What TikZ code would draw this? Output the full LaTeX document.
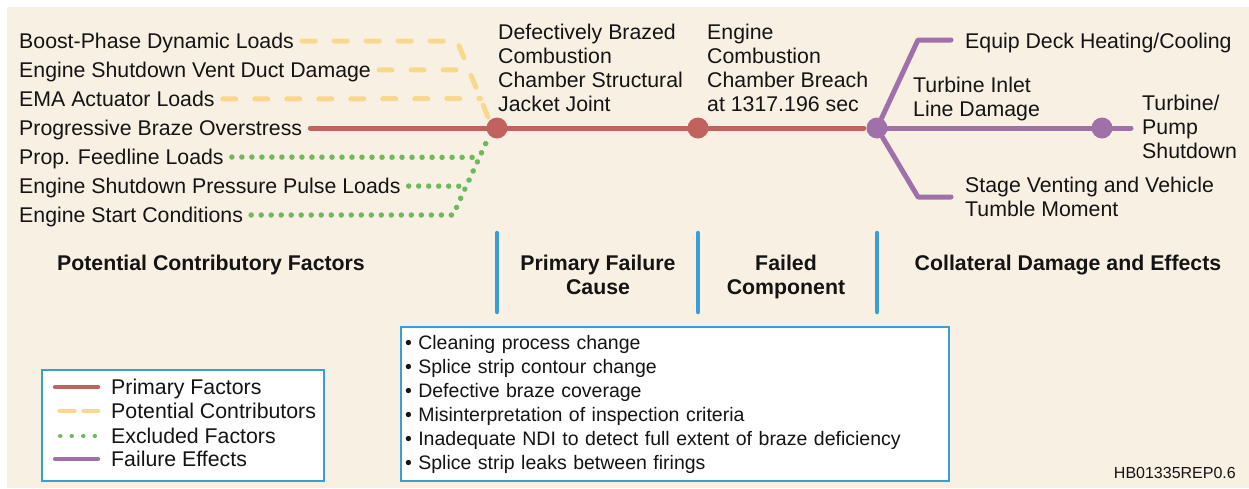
\documentclass[tikz,border=0pt]{standalone}
\usepackage{fontspec}
\setmainfont{Liberation Sans}
\usetikzlibrary{calc}

\definecolor{bgcol}{RGB}{249,240,228}
\definecolor{primcol}{RGB}{193,98,94}
\definecolor{potcol}{RGB}{247,216,140}
\definecolor{exclcol}{RGB}{112,184,92}
\definecolor{effcol}{RGB}{160,112,168}
\definecolor{boxcol}{RGB}{56,158,214}
\definecolor{txtcol}{RGB}{20,20,20}

\tikzset{
    lbl/.style={anchor=west,inner sep=0pt,text height=15pt,text depth=0pt,
        text=txtcol,font=\fontsize{21.3}{24}\selectfont},
    mlbl/.style={anchor=north west,inner sep=0pt,align=left,
        text=txtcol,font=\fontsize{21.3}{24}\selectfont},
    hdr/.style={inner sep=0pt,align=center,text=txtcol,
        font=\fontsize{21.3}{24}\selectfont\bfseries},
    primary/.style={primcol,line width=5pt,line cap=round},
    potential/.style={potcol,line width=5pt,line cap=round,line join=round,
        dash pattern=on 13pt off 19pt},
    excluded/.style={exclcol,line width=5.5pt,line cap=round,line join=round,
        dash pattern=on 0.01pt off 10pt},
    effect/.style={effcol,line width=5pt,line cap=round,line join=round},
    keypot/.style={potcol,line width=4.5pt,line cap=round,dash pattern=on 15pt off 9pt},
    keyexcl/.style={exclcol,line width=5pt,line cap=round,dash pattern=on 0.01pt off 11.5pt},
    sepbar/.style={boxcol,line width=4.5pt,line cap=round},
    panel/.style={draw=boxcol,line width=2pt,fill=white,inner sep=0pt}
}

\begin{document}
\begin{tikzpicture}[x=1pt,y=-1pt]
        \useasboundingbox (0,0) rectangle (1249,488);
        \fill[bgcol] (7,7) rectangle (1249,488);

        % contributing factors
        \begin{scope}[every node/.style={lbl}]
            \node (L1) at (19,41) {Boost-Phase Dynamic Loads};
            \node (L2) at (19,70) {Engine Shutdown Vent Duct Damage};
            \node (L3) at (19,99) {EMA Actuator Loads};
            \node (L4) at (19,128) {Progressive Braze Overstress};
            \node (L5) at (19,157) {Prop. Feedline Loads};
            \node (L6) at (19,186) {Engine Shutdown Pressure Pulse Loads};
            \node (L7) at (19,215) {Engine Start Conditions};
        \end{scope}

        % event dots
        \begin{scope}[every node/.style={circle,inner sep=0pt,minimum size=21pt}]
            \node[fill=primcol] (J) at (497,128) {};
            \node[fill=primcol] (B) at (698,128) {};
            \node[fill=effcol] (T) at (877,128) {};
            \node[fill=effcol] (P) at (1102,128) {};
        \end{scope}

        \node[mlbl] (Jt) at (498,24.2) {Defectively Brazed\\Combustion\\Chamber Structural\\Jacket Joint};
        \node[mlbl] (Bt) at (707,24.2) {Engine\\Combustion\\Chamber Breach\\at 1317.196 sec};
        \node[mlbl] (inlet) at (913,77.2) {Turbine Inlet\\Line Damage};
        \node[mlbl] (pump) at (1142,95.2) {Turbine/\\Pump\\Shutdown};
        \node[mlbl] (stage) at (965,177.2) {Stage Venting and Vehicle\\Tumble Moment};
        \node[lbl] (deck) at (965,41) {Equip Deck Heating/Cooling};

        \coordinate (y1) at (457,41);
        \coordinate (g1) at (453,215);
        \coordinate (up) at (918,40);
        \coordinate (dn) at (918,197);

        % potential contributors
        \draw[potential,shorten <=8pt,shorten >=2.5pt] (L1.east) -- (y1) -- (J.north west);
        \draw[potential,shorten <=8pt] (L2.east) -- ($(y1)!0.3625!(J.north west)$);
        \draw[potential,shorten <=8pt] (L3.east) -- ($(y1)!0.725!(J.north west)$);
        % excluded factors
        \draw[excluded,shorten <=8pt,shorten >=2.5pt] (L7.east) -- (g1) -- (J.south west);
        \draw[excluded,shorten <=8pt] (L6.east) -- ($(g1)!0.3628!(J.south west)$);
        \draw[excluded,shorten <=8pt] (L5.east) -- ($(g1)!0.7256!(J.south west)$);
        % primary path
        \draw[primary,shorten <=8pt] (L4.east) -- (J);
        \draw[primary] (J) -- (B);
        \draw[primary,shorten >=2.5pt] (B) -- (T);
        % effects
        \draw[effect,shorten >=14pt] (T) -- (up) -- (up -| deck.west);
        \draw[effect,shorten >=14pt] (T) -- (dn) -- (dn -| stage.west);
        \draw[effect] (T) -- (P);
        \draw[effect,shorten >=11pt] (P) -- (T -| pump.west);

        % column headings
        \coordinate (top) at (0,233);
        \coordinate (bot) at (0,312);
        \draw[sepbar] (J |- top) -- (J |- bot);
        \draw[sepbar] (B |- top) -- (B |- bot);
        \draw[sepbar] (T |- top) -- (T |- bot);
        \node[hdr,text height=15pt,text depth=0pt] (H1) at (211,263) {Potential Contributory Factors};
        \node[hdr,anchor=north] (H2) at (598,255.2) {Primary Failure\\Cause};
        \node[hdr,anchor=north] (H3) at (786,255.2) {Failed\\Component};
        \node[hdr,text height=15pt,text depth=0pt] (H4) at (1068,263) {Collateral Damage and Effects};

        % root causes
        \node[panel,anchor=north west,minimum width=548pt,minimum height=154pt,
            text width=540pt,inner xsep=4pt,align=left,text=txtcol,
            font=\fontsize{19.5}{24}\selectfont] (causes) at (400,326)
            {\textbullet{} Cleaning process change\\
             \textbullet{} Splice strip contour change\\
             \textbullet{} Defective braze coverage\\
             \textbullet{} Misinterpretation of inspection criteria\\
             \textbullet{} Inadequate NDI to detect full extent of braze deficiency\\
             \textbullet{} Splice strip leaks between firings};

        % legend
        \node[panel,anchor=north west,minimum width=282pt,minimum height=111pt] (key) at (41,369) {};
        \foreach \y/\s/\xa/\xb/\t [count=\i] in {387/primary/55/98/Primary Factors,
                411/keypot/59.5/98/Potential Contributors,
                436/keyexcl/60.25/95/Excluded Factors,
                459/effect/55/98/Failure Effects}{
            \draw[\s,line width=4.5pt] (\xa,\y) -- (\xb,\y);
            \node[lbl] (key\i) at (111,\y) {\t};
        }

        \node[anchor=east,inner sep=0pt,text=txtcol,font=\fontsize{16}{18}\selectfont,
            text height=11.5pt,text depth=0pt] (code) at (1236,473) {HB01335REP0.6};
    \end{tikzpicture}
\end{document}
